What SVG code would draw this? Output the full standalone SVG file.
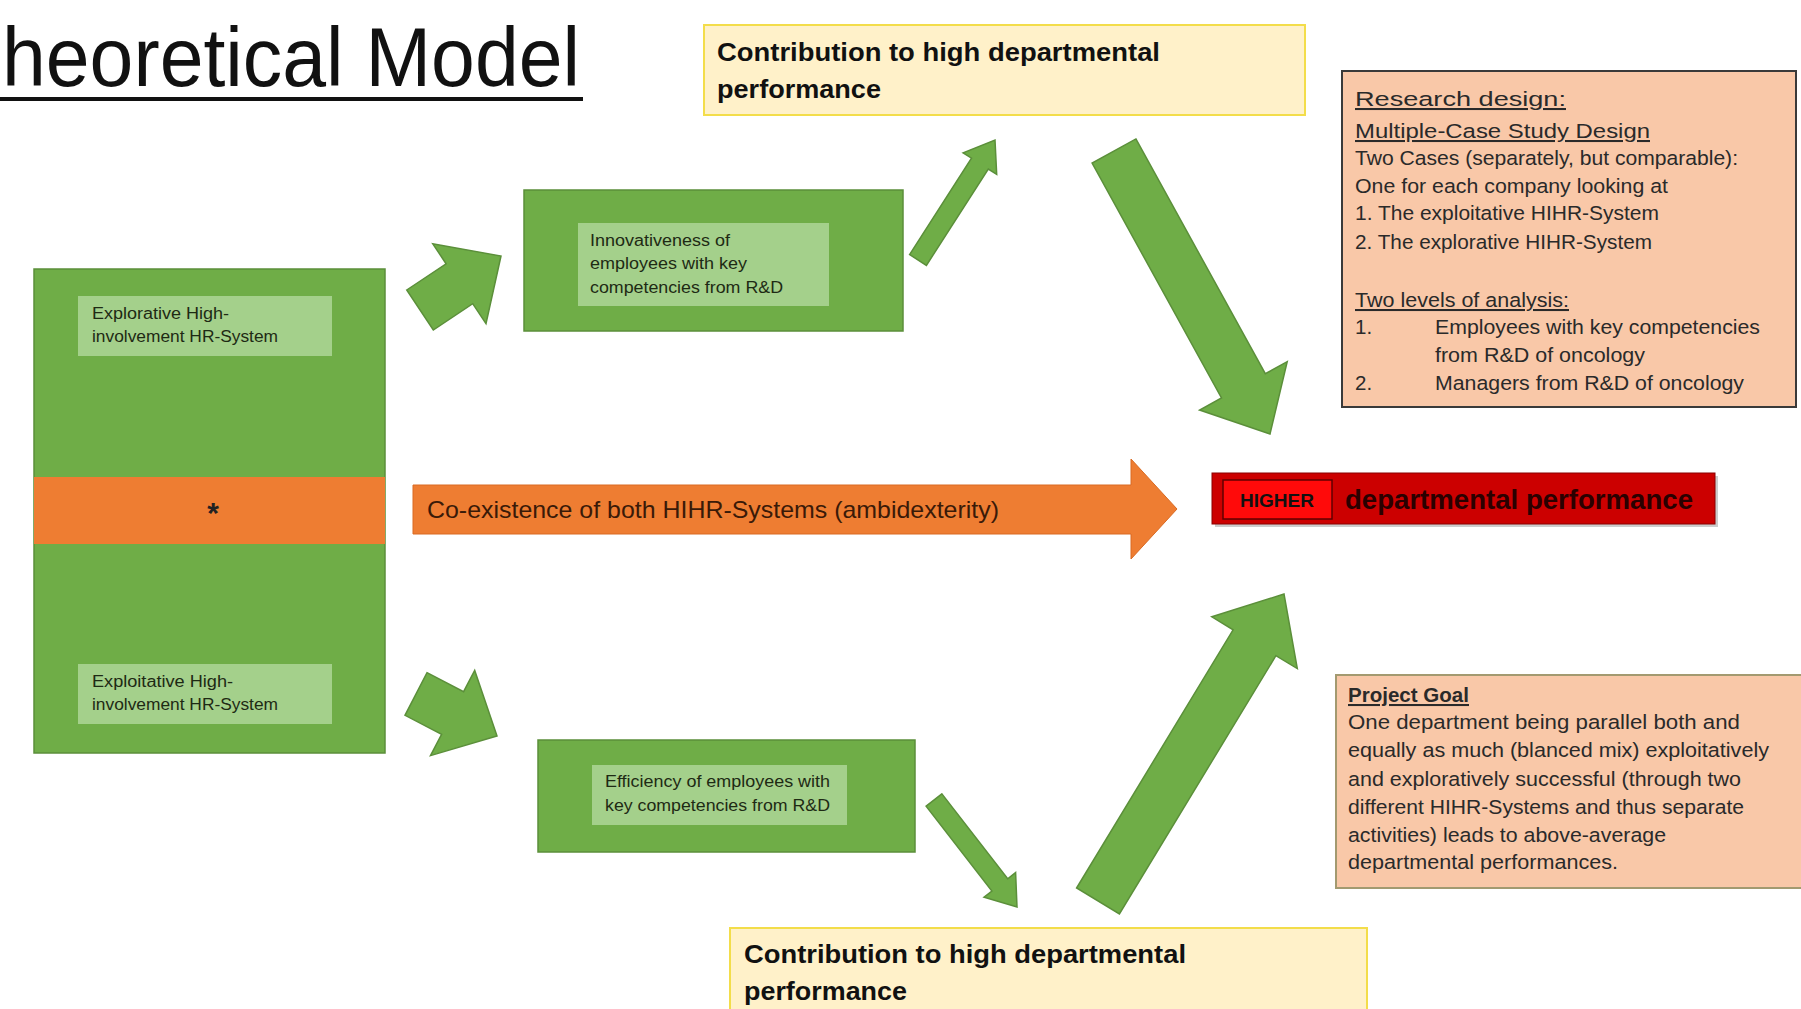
<svg xmlns="http://www.w3.org/2000/svg" width="1801" height="1009" viewBox="0 0 1801 1009">
<style>
text{font-family:"Liberation Sans",Arial,sans-serif;}
.green{fill:#6fad47;stroke:#5b8f3a;stroke-width:1.5;}
.label{fill:#b2d89c;fill-opacity:0.8;stroke:none;}
.lt{font-size:16px;fill:#1e2a14;}
.yellow{fill:#fff1c9;stroke:#f3dd4a;stroke-width:2;}
.yt{font-size:25px;font-weight:bold;fill:#111;}
.peach{fill:#f9c8a8;}
.rt{font-size:20.5px;fill:#2a2a2a;}
.arr{fill:#6fad47;stroke:#5b8f3a;stroke-width:1.5;stroke-linejoin:miter;}
</style>
<rect width="1801" height="1009" fill="#ffffff"/>

<g id="title">
<text x="2" y="86" font-size="84" fill="#111" textLength="578" lengthAdjust="spacingAndGlyphs">heoretical Model</text>
<line x1="0" y1="99" x2="583" y2="99" stroke="#111" stroke-width="4"/>
</g>

<g id="connectors">
<polygon class="arr" points="406.7,290 446.1,263.8 432.8,243.8 501,256 486,323.7 472.7,303.7 433.3,330"/>
<polygon class="arr" points="427,672.7 463.6,691.7 474.7,670.4 497,736 430.5,755.6 441.6,734.3 405,715.3"/>
<polygon class="arr" points="909.6,254.6 971.5,158.2 963.1,152.8 995,140 996.7,174.4 988.3,169 926.4,265.4"/>
<polygon class="arr" points="1135.9,138.9 1265.3,373.7 1287.2,361.7 1270,434 1199.6,410 1221.5,397.9 1092.1,163.1"/>
<polygon class="arr" points="1076.6,888 1233.1,629.8 1211.8,616.8 1284,594 1297.3,668.6 1275.9,655.7 1119.4,914"/>
<polygon class="arr" points="941.9,793.9 1007.7,878.8 1015.6,872.6 1017,907 984,897.2 991.9,891 926.1,806.1"/>
<g id="coexistence-arrow">
<polygon points="413,485 1131,485 1131,459 1177,509 1131,559 1131,534 413,534" fill="#ee7d32" stroke="#d96a22" stroke-width="1"/>
<text x="427" y="518" font-size="24" fill="#3a1a08" textLength="572" lengthAdjust="spacingAndGlyphs">Co-existence of both HIHR-Systems (ambidexterity)</text>
</g>
</g>

<g id="hr-systems">
<rect class="green" x="34" y="269" width="351" height="484"/>
<rect x="34" y="477" width="351" height="67" fill="#ee7d32"/>
<text x="213" y="523" font-size="30" font-weight="bold" text-anchor="middle" fill="#222">*</text>
<rect class="label" x="78" y="296" width="254" height="60"/>
<text class="lt" x="92" y="319" textLength="137" lengthAdjust="spacingAndGlyphs">Explorative High-</text>
<text class="lt" x="92" y="342" textLength="186" lengthAdjust="spacingAndGlyphs">involvement HR-System</text>
<rect class="label" x="78" y="664" width="254" height="60"/>
<text class="lt" x="92" y="687" textLength="141" lengthAdjust="spacingAndGlyphs">Exploitative High-</text>
<text class="lt" x="92" y="710" textLength="186" lengthAdjust="spacingAndGlyphs">involvement HR-System</text>
</g>

<g id="innovativeness">
<rect class="green" x="524" y="190" width="379" height="141"/>
<rect class="label" x="578" y="223" width="251" height="83"/>
<text class="lt" x="590" y="246" textLength="140" lengthAdjust="spacingAndGlyphs">Innovativeness of</text>
<text class="lt" x="590" y="269" textLength="157" lengthAdjust="spacingAndGlyphs">employees with key</text>
<text class="lt" x="590" y="293" textLength="193" lengthAdjust="spacingAndGlyphs">competencies from R&amp;D</text>
</g>

<g id="efficiency">
<rect class="green" x="538" y="740" width="377" height="112"/>
<rect class="label" x="592" y="765" width="255" height="60"/>
<text class="lt" x="605" y="787" textLength="225" lengthAdjust="spacingAndGlyphs">Efficiency of employees with</text>
<text class="lt" x="605" y="811" textLength="225" lengthAdjust="spacingAndGlyphs">key competencies from R&amp;D</text>
</g>

<g id="contribution-top">
<rect class="yellow" x="704" y="25" width="601" height="90"/>
<text class="yt" x="717" y="61" textLength="443" lengthAdjust="spacingAndGlyphs">Contribution  to high departmental</text>
<text class="yt" x="717" y="98" textLength="164" lengthAdjust="spacingAndGlyphs">performance</text>
</g>

<g id="contribution-bottom">
<rect class="yellow" x="730" y="928" width="637" height="90"/>
<text class="yt" x="744" y="963" textLength="442" lengthAdjust="spacingAndGlyphs">Contribution  to high departmental</text>
<text class="yt" x="744" y="1000" textLength="163" lengthAdjust="spacingAndGlyphs">performance</text>
</g>

<g id="higher-performance">
<rect x="1215" y="476" width="503" height="51" fill="#999" opacity="0.5"/>
<rect x="1212" y="473" width="503" height="51" fill="#cc0000" stroke="#8a0000" stroke-width="1"/>
<rect x="1223" y="480" width="109" height="39" fill="#ff0a0a" stroke="#600000" stroke-width="1.5"/>
<text x="1277" y="507" font-size="18" font-weight="bold" text-anchor="middle" fill="#111" textLength="74" lengthAdjust="spacingAndGlyphs">HIGHER</text>
<text x="1345" y="509" font-size="27" font-weight="bold" fill="#2a0000" textLength="348" lengthAdjust="spacingAndGlyphs">departmental  performance</text>
</g>

<g id="research-design">
<rect class="peach" x="1342" y="71" width="454" height="336" stroke="#3a3a3a" stroke-width="2"/>
<text class="rt" x="1355" y="106" font-size="27" text-decoration="underline" textLength="211" lengthAdjust="spacingAndGlyphs">Research design:</text>
<text class="rt" x="1355" y="138" text-decoration="underline" textLength="295" lengthAdjust="spacingAndGlyphs">Multiple-Case Study Design</text>
<text class="rt" x="1355" y="165" textLength="383" lengthAdjust="spacingAndGlyphs">Two Cases (separately, but comparable):</text>
<text class="rt" x="1355" y="193" textLength="313" lengthAdjust="spacingAndGlyphs">One for each company looking at</text>
<text class="rt" x="1355" y="220" textLength="304" lengthAdjust="spacingAndGlyphs">1. The exploitative HIHR-System</text>
<text class="rt" x="1355" y="249" textLength="297" lengthAdjust="spacingAndGlyphs">2. The explorative HIHR-System</text>
<text class="rt" x="1355" y="307" text-decoration="underline" textLength="214" lengthAdjust="spacingAndGlyphs">Two levels of analysis:</text>
<text class="rt" x="1355" y="334">1.</text>
<text class="rt" x="1435" y="334" textLength="325" lengthAdjust="spacingAndGlyphs">Employees with key competencies</text>
<text class="rt" x="1435" y="362" textLength="210" lengthAdjust="spacingAndGlyphs">from R&amp;D of oncology</text>
<text class="rt" x="1355" y="390">2.</text>
<text class="rt" x="1435" y="390" textLength="309" lengthAdjust="spacingAndGlyphs">Managers from R&amp;D of oncology</text>
</g>

<g id="project-goal">
<rect class="peach" x="1336" y="675" width="470" height="213" stroke="#a39a70" stroke-width="2"/>
<text class="rt" x="1348" y="702" font-weight="bold" text-decoration="underline" textLength="121" lengthAdjust="spacingAndGlyphs">Project Goal</text>
<text class="rt" x="1348" y="729" textLength="392" lengthAdjust="spacingAndGlyphs">One department  being parallel both  and</text>
<text class="rt" x="1348" y="757" textLength="421" lengthAdjust="spacingAndGlyphs">equally as much  (blanced mix) exploitatively</text>
<text class="rt" x="1348" y="786" textLength="393" lengthAdjust="spacingAndGlyphs">and exploratively successful (through two</text>
<text class="rt" x="1348" y="814" textLength="396" lengthAdjust="spacingAndGlyphs">different HIHR-Systems and thus separate</text>
<text class="rt" x="1348" y="842" textLength="318" lengthAdjust="spacingAndGlyphs">activities) leads to above-average</text>
<text class="rt" x="1348" y="869" textLength="270" lengthAdjust="spacingAndGlyphs">departmental  performances.</text>
</g>
</svg>
